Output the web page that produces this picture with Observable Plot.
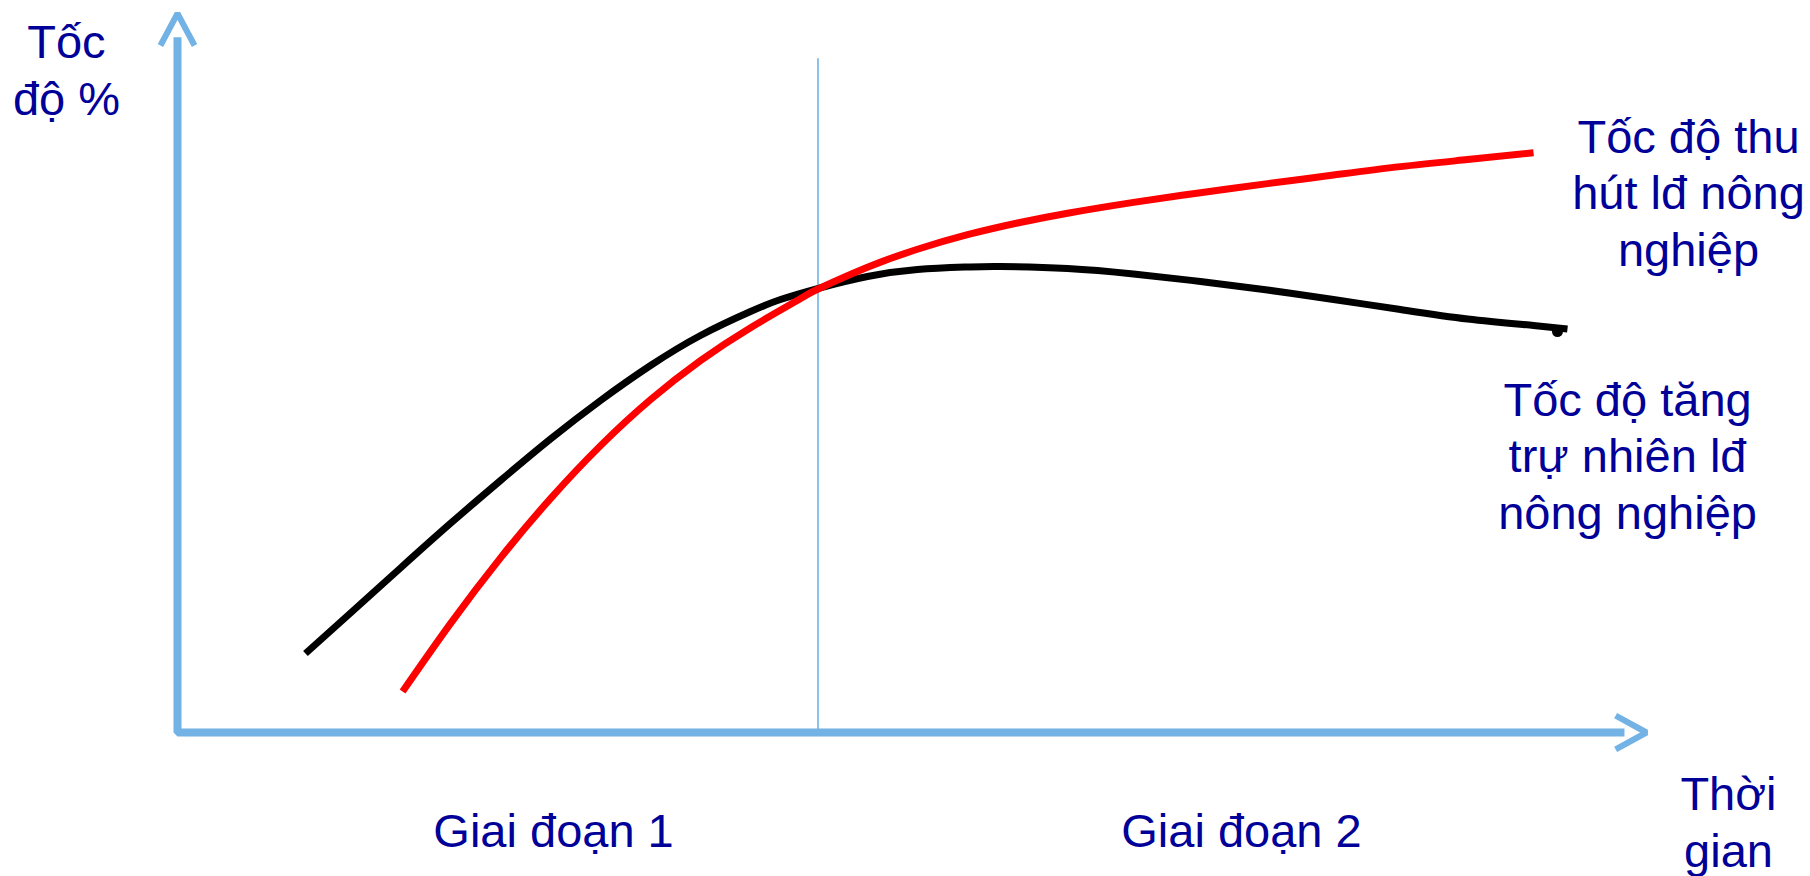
<!DOCTYPE html>
<html>
<head>
<meta charset="utf-8">
<script src="https://cdn.jsdelivr.net/npm/d3@7"></script>
<script src="https://cdn.jsdelivr.net/npm/@observablehq/plot@0.6"></script>
<style>
  html, body { margin: 0; padding: 0; background: #ffffff; }
  #chart svg { display: block; }
</style>
</head>
<body>
<div id="chart"></div>
<script>
// ---- Data (time units 0..100 on x, rate units 0..100 on y) ----
// Tốc độ tăng tự nhiên lđ nông nghiệp (black)
const blackX = [8.71, 11.78, 15.18, 18.58, 21.99, 25.39, 28.80, 32.20, 35.60, 39.01, 41.05, 43.57, 46.97, 50.37, 53.78, 56.02, 60.59, 65.08, 69.64, 74.20, 78.69, 83.25, 87.82, 92.31, 94.62];
const blackY = [10.99, 16.62, 22.88, 29.07, 35.05, 40.82, 46.18, 51.04, 55.22, 58.55, 60.22, 61.75, 63.42, 64.39, 64.74, 64.81, 64.53, 63.77, 62.73, 61.54, 60.22, 58.83, 57.51, 56.61, 56.12];
// end blob of the black stroke
const blackEnd = [93.94, 55.77];

// Tốc độ thu hút lđ nông nghiệp (red)
const redX = [15.32, 18.58, 21.99, 25.39, 28.80, 32.20, 35.60, 39.01, 42.42, 43.57, 46.97, 50.37, 53.78, 57.18, 60.59, 65.08, 69.64, 74.20, 78.69, 83.25, 87.82, 92.31];
const redY = [5.70, 15.15, 24.29, 32.53, 39.90, 46.30, 51.72, 56.31, 60.35, 61.65, 64.71, 67.21, 69.23, 70.86, 72.22, 73.73, 75.08, 76.34, 77.53, 78.70, 79.68, 80.64];

// Divider between the two stages
const dividerX = 43.6;
const dividerTop = 93.7;

// Axes
const xAxisEnd = 98.5, xAxisTip = 100;
const yAxisEnd = 96.7, yAxisTip = 100;
const xHeadBack = 97.9, xHeadHalf = 2.36;
const yHeadBack = 95.55, yHeadHalf = 1.16;

// Labels
const labelTexts = [
  "Tốc\nđộ %",
  "Tốc độ thu\nhút lđ nông\nnghiệp",
  "Tốc độ tăng\ntrự nhiên lđ\nnông nghiệp",
  "Thời\ngian",
  "Giai đoạn 1",
  "Giai đoạn 2"
];
const labelX = [-7.56, 102.86, 98.71, 105.58, 25.6, 72.43];
const labelY = [85.95, 64.95, 28.37, -18.64, -15.86, -15.86];

// ---- Build tables ----
const black = blackX.map((x, i) => ({x, y: blackY[i]}));
const red = redX.map((x, i) => ({x, y: redY[i]}));
const axisPath = [{x: 0, y: yAxisEnd}, {x: 0, y: 0}, {x: xAxisEnd, y: 0}];
const xHead = [{x: xHeadBack, y: xHeadHalf}, {x: xAxisTip, y: 0}, {x: xHeadBack, y: -xHeadHalf}];
const yHead = [{x: -yHeadHalf, y: yHeadBack}, {x: 0, y: yAxisTip}, {x: yHeadHalf, y: yHeadBack}];
const labels = labelTexts.map((t, i) => ({t, x: labelX[i], y: labelY[i]}));

const axisColor = "#72b2e4";
const textColor = "#000099";

const chart = Plot.plot({
  width: 1810,
  height: 876,
  marginLeft: 177,
  marginRight: 164,
  marginTop: 13,
  marginBottom: 144,
  x: {domain: [0, 100], axis: null},
  y: {domain: [0, 100], axis: null},
  style: {fontFamily: "'Liberation Sans', Arial, sans-serif", background: "#ffffff", overflow: "visible"},
  marks: [
    Plot.ruleX([dividerX], {y1: 0, y2: dividerTop, stroke: axisColor, strokeWidth: 1.6}),
    Plot.line(axisPath, {x: "x", y: "y", stroke: axisColor, strokeWidth: 8, strokeLinejoin: "miter", strokeLinecap: "butt"}),
    Plot.line(xHead, {x: "x", y: "y", stroke: axisColor, strokeWidth: 6, strokeLinejoin: "miter", strokeLinecap: "butt"}),
    Plot.line(yHead, {x: "x", y: "y", stroke: axisColor, strokeWidth: 6, strokeLinejoin: "miter", strokeLinecap: "butt"}),
    Plot.line(black, {x: "x", y: "y", stroke: "#000000", strokeWidth: 7, curve: "natural", strokeLinecap: "butt"}),
    Plot.dot([blackEnd], {x: d => d[0], y: d => d[1], r: 5.5, fill: "#000000", stroke: null}),
    Plot.line(red, {x: "x", y: "y", stroke: "#ff0000", strokeWidth: 7, curve: "natural", strokeLinecap: "butt"}),
    Plot.text(labels, {x: "x", y: "y", text: "t", fill: textColor, fontSize: 47, lineHeight: 1.2, textAnchor: "middle", lineAnchor: "bottom"})
  ]
});

document.getElementById("chart").appendChild(chart);
</script>
</body>
</html>
